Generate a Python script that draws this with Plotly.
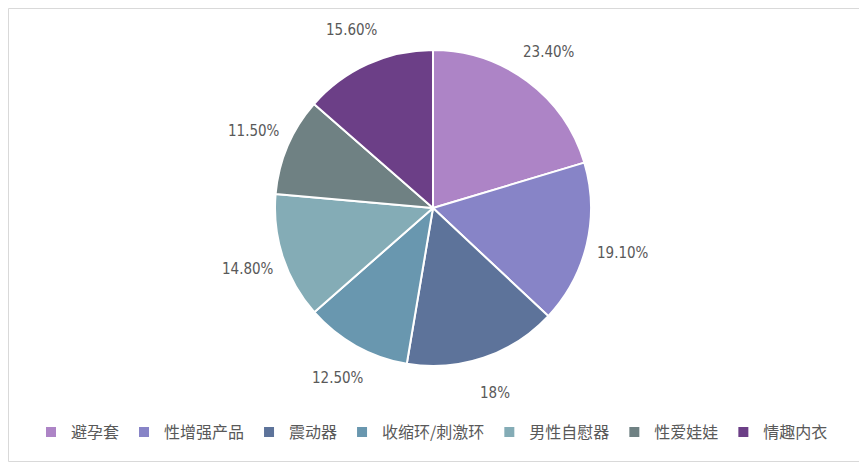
import math
import plotly.graph_objects as go

categories = ["避孕套", "性增强产品", "震动器", "收缩环/刺激环", "男性自慰器", "性爱娃娃", "情趣内衣"]
values = [23.40, 19.10, 18, 12.50, 14.80, 11.50, 15.60]
value_labels = ["23.40%", "19.10%", "18%", "12.50%", "14.80%", "11.50%", "15.60%"]
colors = ["#AD84C6", "#8784C7", "#5D739A", "#6997AF", "#84ACB6", "#6F8183", "#6C3F87"]

OFF = 8  # page body margin
W, H = 867 - OFF, 462 - OFF
cx, cy, r = 433 - OFF, 208 - OFF, 158
label_r = 195
FONT = "DejaVu Sans Condensed, Noto Sans CJK SC, sans-serif"

fig = go.Figure(go.Pie(
    labels=categories,
    values=values,
    sort=False,
    direction="clockwise",
    rotation=0,
    marker=dict(colors=colors, line=dict(color="white", width=2)),
    textinfo="none",
    hoverinfo="label+value",
    domain=dict(x=[(cx - r) / W, (cx + r) / W], y=[(H - cy - r) / H, (H - cy + r) / H]),
))

total = sum(values)
cum = 0
annotations = []
for v, t in zip(values, value_labels):
    mid = (cum + v / 2) / total * 2 * math.pi
    cum += v
    px = cx + label_r * math.sin(mid)
    py = cy - label_r * math.cos(mid)
    annotations.append(dict(
        x=px / W, y=(H - py) / H, xref="paper", yref="paper",
        text=t, showarrow=False, xanchor="center", yanchor="middle",
        font=dict(size=15, color="#595959", family=FONT),
    ))

fig.update_layout(
    width=W, height=H,
    margin=dict(l=0, r=0, t=0, b=0),
    paper_bgcolor="white",
    font=dict(family=FONT, color="#595959", size=16),
    showlegend=True,
    legend=dict(
        orientation="h", x=424 / W, xanchor="center", y=(H - (432 - OFF)) / H, yanchor="middle",
        font=dict(size=16, color="#595959", family="Noto Sans CJK SC"), itemwidth=30, traceorder="normal",
    ),
    annotations=annotations,
    shapes=[dict(
        type="rect", xref="paper", yref="paper", x0=0.5 / W, x1=1 - 0.5 / W, y0=0.5 / H, y1=1 - 0.5 / H,
        line=dict(color="#D9D9D9", width=1), fillcolor="rgba(0,0,0,0)",
    )],
)

fig.write_html("out.html")
